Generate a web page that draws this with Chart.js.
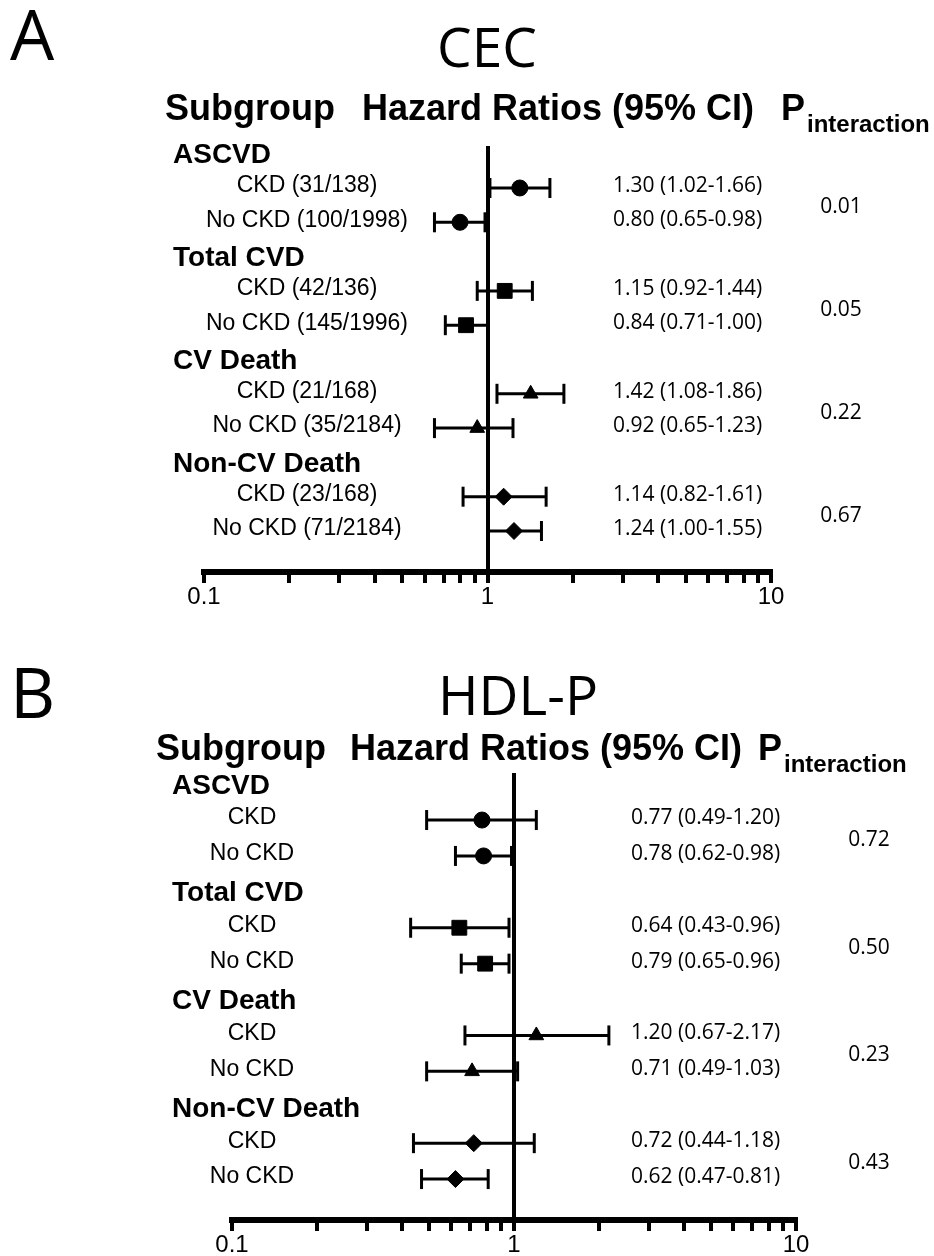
<!DOCTYPE html>
<html>
<head>
<meta charset="utf-8">
<title>CEC / HDL-P forest plots</title>
<script src="https://cdn.jsdelivr.net/npm/chart.js@4.4.1/dist/chart.umd.min.js"></script>
<style>
  html, body { margin: 0; padding: 0; background: #fff; }
  #wrap { position: relative; width: 934px; height: 1256px; }
  canvas { position: absolute; left: 0; top: 0; }
</style>
</head>
<body>
<div id="wrap">
  <canvas id="chartA" width="934" height="1256"></canvas>
  <canvas id="chartB" width="934" height="1256"></canvas>
</div>
<script>
'use strict';

var outcomes = ['ASCVD', 'Total CVD', 'CV Death', 'Non-CV Death'];

// panel A - CEC
var cecLabels = ['CKD (31/138)', 'No CKD (100/1998)', 'CKD (42/136)', 'No CKD (145/1996)',
                 'CKD (21/168)', 'No CKD (35/2184)', 'CKD (23/168)', 'No CKD (71/2184)'];
var cecHR   = [1.30, 0.80, 1.15, 0.84, 1.42, 0.92, 1.14, 1.24];
var cecLow  = [1.02, 0.65, 0.92, 0.71, 1.08, 0.65, 0.82, 1.00];
var cecHigh = [1.66, 0.98, 1.44, 1.00, 1.86, 1.23, 1.61, 1.55];
var cecP    = ['0.01', '0.05', '0.22', '0.67'];

// panel B - HDL-P
var hdlLabels = ['CKD', 'No CKD', 'CKD', 'No CKD', 'CKD', 'No CKD', 'CKD', 'No CKD'];
var hdlHR   = [0.77, 0.78, 0.64, 0.79, 1.20, 0.71, 0.72, 0.62];
var hdlLow  = [0.49, 0.62, 0.43, 0.65, 0.67, 0.49, 0.44, 0.47];
var hdlHigh = [1.20, 0.98, 0.96, 0.96, 2.17, 1.03, 1.18, 0.81];
var hdlP    = ['0.72', '0.50', '0.23', '0.43'];

// log axis
var axisTicks = [0.1, 0.2, 0.3, 0.4, 0.5, 0.6, 0.7, 0.8, 0.9, 1, 2, 3, 4, 5, 6, 7, 8, 9, 10];
var axisTickLabels = [0.1, 1, 10];

var shapes = ['circle', 'rect', 'triangle', 'rectRot'];
var shapeRadius = { circle: 8, rect: 10.5, triangle: 8.5, rectRot: 8.5 };

// header row of each outcome sits at 3g, its two subgroups at 3g+1 and 3g+2
function rowOf(i) {
    return 3 * Math.floor(i / 2) + 1 + (i % 2);
}

function fmt(v) {
    return v.toFixed(2);
}

var panels = [{
    canvas: 'chartA', letter: 'A', title: 'CEC',
    labels: cecLabels, hr: cecHR, low: cecLow, high: cecHigh, p: cecP,
    pad: { left: 204, right: 163, top: 146, bottom: 646 },
    axisH: 38,
    yMin: -0.224, yMax: 12.195,
    letterY: 60, titleX: 487, titleY: 67,
    headY: 120, headX: [165, 362, 781],
    groupX: 173, labelX: 307, hrX: 613, pX: 841
}, {
    canvas: 'chartB', letter: 'B', title: 'HDL-P',
    labels: hdlLabels, hr: hdlHR, low: hdlLow, high: hdlHigh, p: hdlP,
    pad: { left: 232, right: 138, top: 773, bottom: 0 },
    axisH: 36,
    yMin: -0.31, yMax: 12.14,
    letterY: 718, titleX: 518, titleY: 715,
    headY: 760, headX: [156, 350, 758],
    groupX: 172, labelX: 252, hrX: 631, pX: 869
}];

var forestText = {
    id: 'forestText',
    afterDraw: function(chart, args, p) {
        var ctx = chart.ctx;
        var y = chart.scales.y;
        ctx.save();
        ctx.fillStyle = '#000';
        ctx.textBaseline = 'alphabetic';

        ctx.textAlign = 'left';
        ctx.font = '70px "Open Sans"';
        ctx.fillText(p.letter, 10, p.letterY);

        ctx.textAlign = 'center';
        ctx.font = '55px "Open Sans"';
        ctx.fillText(p.title, p.titleX, p.titleY);

        ctx.textAlign = 'left';
        ctx.font = 'bold 36px "Liberation Sans"';
        ctx.fillText('Subgroup', p.headX[0], p.headY);
        ctx.fillText('Hazard Ratios (95% CI)', p.headX[1], p.headY);
        ctx.fillText('P', p.headX[2], p.headY);
        var pw = ctx.measureText('P').width;
        ctx.font = 'bold 24px "Liberation Sans"';
        ctx.fillText('interaction', p.headX[2] + pw + 2, p.headY + 12);

        ctx.textBaseline = 'middle';
        ctx.font = 'bold 28px "Liberation Sans"';
        outcomes.forEach(function(name, g) {
            ctx.fillText(name, p.groupX, y.getPixelForValue(3 * g + 0.05));
        });

        ctx.textAlign = 'center';
        ctx.font = '23px "Liberation Sans"';
        p.labels.forEach(function(lab, i) {
            ctx.fillText(lab, p.labelX, y.getPixelForValue(rowOf(i)) - 2);
        });

        ctx.textAlign = 'left';
        ctx.font = '21px "Open Sans"';
        p.hr.forEach(function(v, i) {
            var txt = fmt(v) + ' (' + fmt(p.low[i]) + '-' + fmt(p.high[i]) + ')';
            ctx.fillText(txt, p.hrX, y.getPixelForValue(rowOf(i)) - 2);
        });

        ctx.textAlign = 'center';
        p.p.forEach(function(v, g) {
            ctx.fillText(v, p.pX, y.getPixelForValue(3 * g + 1.5) + 2);
        });
        ctx.restore();
    }
};

function buildPanel(p) {
    var datasets = [];
    // markers first so they are painted on top of the whiskers
    shapes.forEach(function(shape, g) {
        datasets.push({
            data: [0, 1].map(function(s) {
                var i = 2 * g + s;
                return { x: p.hr[i], y: rowOf(i) };
            }),
            pointStyle: shape,
            pointRadius: shapeRadius[shape],
            backgroundColor: '#000',
            borderColor: '#000',
            borderWidth: 1,
            showLine: false
        });
    });
    p.hr.forEach(function(v, i) {
        datasets.push({
            data: [{ x: p.low[i], y: rowOf(i) }, { x: p.high[i], y: rowOf(i) }],
            showLine: true,
            borderColor: '#000',
            borderWidth: 3,
            pointStyle: 'line',
            rotation: 90,
            pointRadius: 10,
            pointBorderWidth: 3,
            pointBorderColor: '#000'
        });
    });

    return new Chart(document.getElementById(p.canvas), {
        type: 'scatter',
        data: { datasets: datasets },
        options: {
            responsive: false,
            animation: false,
            devicePixelRatio: 1,
            events: [],
            layout: { padding: p.pad },
            elements: { line: { tension: 0 } },
            plugins: {
                legend: { display: false },
                tooltip: { enabled: false },
                forestText: p
            },
            scales: {
                x: {
                    type: 'logarithmic',
                    min: 0.1,
                    max: 10,
                    afterBuildTicks: function(scale) {
                        scale.ticks = axisTicks.map(function(v) { return { value: v }; });
                    },
                    afterFit: function(scale) {
                        scale.height = p.axisH;
                    },
                    border: { display: true, color: '#000', width: 6 },
                    grid: {
                        drawOnChartArea: true,
                        color: function(c) {
                            return c.tick && c.tick.value === 1 ? '#000' : 'rgba(0,0,0,0)';
                        },
                        lineWidth: 4,
                        tickColor: '#000',
                        tickWidth: 4,
                        tickLength: 11
                    },
                    ticks: {
                        autoSkip: false,
                        maxRotation: 0,
                        padding: 0,
                        color: '#000',
                        font: { family: 'Liberation Sans', size: 24 },
                        callback: function(v) {
                            return axisTickLabels.indexOf(v) >= 0 ? String(v) : '';
                        }
                    }
                },
                y: {
                    type: 'linear',
                    reverse: true,
                    min: p.yMin,
                    max: p.yMax,
                    display: false
                }
            }
        },
        plugins: [forestText]
    });
}

panels.forEach(buildPanel);
</script>
</body>
</html>
